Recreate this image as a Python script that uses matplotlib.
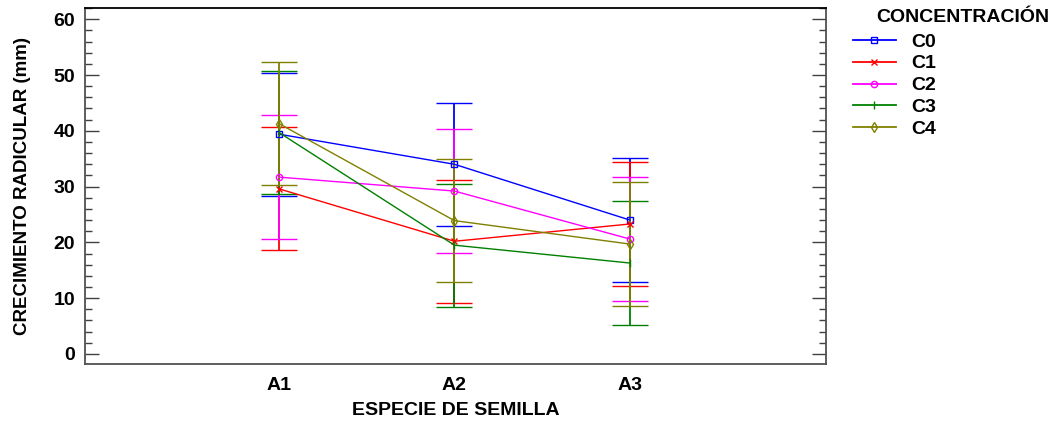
import matplotlib
matplotlib.use("Agg")
import matplotlib.pyplot as plt
from matplotlib.lines import Line2D
from matplotlib.ticker import MultipleLocator

plt.rcParams["font.family"] = ["Liberation Sans", "DejaVu Sans"]
plt.rcParams["font.weight"] = "bold"

# group means (mm) per seed species, one list per concentration level
species = ["A1", "A2", "A3"]
levels = ["C0", "C1", "C2", "C3", "C4"]
c0 = [39.4, 34.0, 24.0]
c1 = [29.6, 20.2, 23.3]
c2 = [31.7, 29.2, 20.6]
c3 = [39.7, 19.5, 16.3]
c4 = [41.3, 23.9, 19.7]
means = [c0, c1, c2, c3, c4]
half_width = 11.05  # LSD interval half width

colors = ["#0000ff", "#ff0000", "#ff00ff", "#008000", "#808000"]
markers = ["s", "x", "o", "|", "d"]
msizes = [4.5, 4.5, 4.5, 6, 5.5]

fig = plt.figure(figsize=(10.63, 4.25), dpi=100)
ax = fig.add_axes([0.080, 0.1435, 0.697, 0.8375])

x = [1, 2, 3]
handles = []
for name, ys, col, mk, ms in zip(levels, means, colors, markers, msizes):
    style = dict(marker=mk, markersize=ms, markerfacecolor="none",
                 markeredgecolor=col, markeredgewidth=1.0)
    ax.errorbar(x, ys, yerr=half_width, color=col, lw=1.0, elinewidth=1.3,
                capsize=13, capthick=1.3, **style)
    handles.append(Line2D([], [], color=col, lw=1.3, label=name, **style))

ax.set_xlim(-0.105, 4.117)
ax.set_ylim(-1.8, 62)
ax.set_xticks(x)
ax.set_xticklabels(species)
ax.yaxis.set_major_locator(MultipleLocator(10))
ax.yaxis.set_minor_locator(MultipleLocator(2))
ax.tick_params(axis="x", length=0, labelsize=14, pad=9)
ax.tick_params(axis="y", which="major", direction="in", length=10, width=1.0,
               color="#404040", labelsize=14, right=True, pad=7)
ax.tick_params(axis="y", which="minor", direction="in", length=5, width=1.0,
               color="#404040", right=True)
for s in ax.spines.values():
    s.set_color("#505050")
    s.set_linewidth(1.3)
ax.spines["top"].set_color("#000000")

ax.set_xlabel("ESPECIE DE SEMILLA", fontsize=14, fontweight="bold", labelpad=6)
ax.set_ylabel("CRECIMIENTO RADICULAR (mm)", fontsize=13.5, fontweight="bold", labelpad=16)

# legend heading drawn separately so it can sit right of the handles
fig.text(876 / 1063, 1 - 17 / 425, "CONCENTRACIÓN", fontsize=14, fontweight="bold",
         ha="left", va="center")
ax.legend(handles=handles, loc="upper left", bbox_to_anchor=(853 / 1063, 1 - 33 / 425),
          bbox_transform=fig.transFigure, frameon=False, fontsize=14,
          handlelength=2.2, handletextpad=0.8, labelspacing=0.22, borderaxespad=0,
          borderpad=0)

fig.savefig("out.png", dpi=100, facecolor="white")
